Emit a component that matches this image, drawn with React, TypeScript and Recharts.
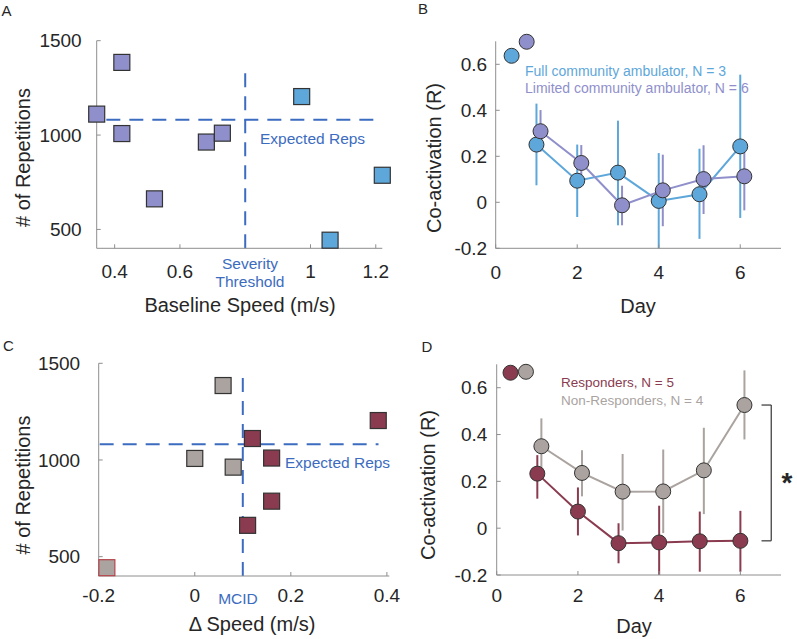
import React from 'react';
import {
    ComposedChart,
    Scatter,
    Line,
    XAxis,
    YAxis,
    ErrorBar,
    ReferenceLine,
    ReferenceDot
} from "recharts"

// ---- panel A: baseline speed vs number of repetitions ----
const fullSpeed = [0.973, 1.22, 1.06];
const fullReps = [1204, 787, 443];
const limitedSpeed = [0.345, 0.422, 0.422, 0.522, 0.681, 0.73];
const limitedReps = [1111, 1385, 1008, 662, 963, 1010];
const expectedReps = 1081;
const severityThreshold = 0.8;

// ---- panel C: change in speed vs number of repetitions ----
const respDeltaSpeed = [0.12, 0.16, 0.16, 0.11, 0.382];
const respReps = [1111, 1010, 787, 662, 1204];
const nonRespDeltaSpeed = [0.059, 0.0, 0.08, -0.183];
const nonRespReps = [1385, 1008, 963, 443];
const mcid = 0.1;

// ---- panel B: co-activation by day, ambulator groups ----
const fullDays = [1, 2, 3, 4, 5, 6];
const fullMean = [0.251, 0.094, 0.129, 0.006, 0.035, 0.243];
const fullLow = [0.074, -0.064, -0.1, -0.2, -0.159, -0.068];
const fullHigh = [0.429, 0.251, 0.355, 0.214, 0.233, 0.555];
const limitedDays = [1.1, 2.1, 3.1, 4.1, 5.1, 6.1];
const limitedMean = [0.309, 0.171, -0.013, 0.052, 0.101, 0.113];
const limitedLow = [0.22, 0.09, -0.1, -0.104, -0.051, -0.035];
const limitedHigh = [0.401, 0.249, 0.072, 0.207, 0.248, 0.22];

// ---- panel D: co-activation by day, responders ----
const respDays = [1, 2, 3, 4, 5, 6];
const respMean = [0.233, 0.071, -0.064, -0.061, -0.056, -0.054];
const respLow = [0.126, -0.031, -0.15, -0.2, -0.186, -0.186];
const respHigh = [0.312, 0.174, 0.021, 0.096, 0.071, 0.074];
const nonRespDays = [1.1, 2.1, 3.1, 4.1, 5.1, 6.1];
const nonRespMean = [0.35, 0.236, 0.156, 0.157, 0.247, 0.526];
const nonRespLow = [0.226, 0.136, -0.01, -0.021, 0.06, 0.379];
const nonRespHigh = [0.469, 0.333, 0.317, 0.336, 0.429, 0.674];

const repTicks = [500, 1000, 1500];
const speedTicks = [0.4, 0.6, 1, 1.2];
const deltaTicks = [-0.2, 0, 0.2, 0.4];
const dayTicks = [0, 2, 4, 6];
const coactTicks = [-0.2, 0, 0.2, 0.4, 0.6];

const FONT = '"Liberation Sans", Arial, Helvetica, sans-serif';
const BLUE = '#5ea7da';
const PURPLE = '#8f8fcb';
const MAROON = '#8a3b4f';
const GRAY = '#aaa39f';
const DASH = '#3c6cc0';
const EDGE = '#333333';
const TEXT = '#262626';

const axisLine = { stroke: '#8e8e8e', strokeWidth: 1 };
const tickStyle = { fontSize: 19, fill: TEXT, fontFamily: FONT };

const toPoints = (xs: number[], ys: number[]) => xs.map((x, i) => ({ x, y: ys[i] }));
const toSeries = (xs: number[], mean: number[], low: number[], high: number[]) =>
    xs.map((x, i) => ({ x, y: mean[i], err: [mean[i] - low[i], high[i] - mean[i]] }));

const square = (fill: string, stroke: string = EDGE, oddIndex: number = -1, oddStroke: string = '') => (props: any) => {
    const { cx, cy, index } = props;
    if (cx == null || cy == null) return <g />;
    return (
        <rect x={cx - 8} y={cy - 8} width={16} height={16} fill={fill}
            stroke={index === oddIndex ? oddStroke : stroke} strokeWidth={1.2} />
    );
};

const dot = (color: string) => ({ r: 7.5, fill: color, stroke: EDGE, strokeWidth: 1, fillOpacity: 1 });

const PanelA: React.FC = () => (
    <div style={{ position: 'absolute', left: 0, top: 0 }}>
        <ComposedChart width={400} height={320} margin={{ top: 40.7, right: 17.7, bottom: 31.7, left: 36.7 }}>
            <XAxis type="number" dataKey="x" domain={[0.345, 1.22]} ticks={speedTicks} interval={0}
                height={40} tick={tickStyle} tickSize={-4} tickMargin={20} axisLine={axisLine} tickLine={axisLine} />
            <YAxis type="number" dataKey="y" domain={[400, 1500]} ticks={repTicks} interval={0}
                width={60} tick={tickStyle} tickSize={-4} tickMargin={19} axisLine={axisLine} tickLine={axisLine} />
            <Scatter data={toPoints(limitedSpeed, limitedReps)} shape={square(PURPLE)} isAnimationActive={false} />
            <Scatter data={toPoints(fullSpeed, fullReps)} shape={square(BLUE)} isAnimationActive={false} />
            <ReferenceLine segment={[{ x: 0.3745, y: expectedReps }, { x: 1.22, y: expectedReps }]}
                stroke={DASH} strokeWidth={2} strokeDasharray="14 9" />
            <ReferenceLine segment={[{ x: severityThreshold, y: 400 }, { x: severityThreshold, y: 1354 }]}
                stroke={DASH} strokeWidth={2} strokeDasharray="14 9" />
        </ComposedChart>
    </div>
);

const PanelB: React.FC = () => (
    <div style={{ position: 'absolute', left: 400, top: 0 }}>
        <ComposedChart width={397} height={320} margin={{ top: 41.3, right: 16, bottom: 31.7, left: 35.7 }}>
            <XAxis type="number" dataKey="x" domain={[0, 7]} ticks={dayTicks} interval={0}
                height={40} tick={tickStyle} tickSize={-4} tickMargin={21} axisLine={axisLine} tickLine={axisLine} />
            <YAxis type="number" dataKey="y" domain={[-0.2, 0.7]} ticks={coactTicks} interval={0}
                width={60} tick={tickStyle} tickSize={-4} tickMargin={12.5} axisLine={axisLine} tickLine={axisLine} />
            <Line data={toSeries(fullDays, fullMean, fullLow, fullHigh)} dataKey="y" type="linear"
                stroke={BLUE} strokeWidth={2} dot={dot(BLUE)} isAnimationActive={false}>
                <ErrorBar dataKey="err" direction="y" width={0} stroke={BLUE} strokeWidth={2} />
            </Line>
            <Line data={toSeries(limitedDays, limitedMean, limitedLow, limitedHigh)} dataKey="y" type="linear"
                stroke={PURPLE} strokeWidth={2} dot={dot(PURPLE)} isAnimationActive={false}>
                <ErrorBar dataKey="err" direction="y" width={0} stroke={PURPLE} strokeWidth={2} />
            </Line>
            <ReferenceDot x={0.39} y={0.637} r={7.5} fill={BLUE} stroke={EDGE} strokeWidth={1} ifOverflow="visible" />
            <ReferenceDot x={0.76} y={0.698} r={7.5} fill={PURPLE} stroke={EDGE} strokeWidth={1} ifOverflow="visible" />
        </ComposedChart>
    </div>
);

const PanelC: React.FC = () => (
    <div style={{ position: 'absolute', left: 0, top: 320 }}>
        <ComposedChart width={400} height={319} margin={{ top: 43.3, right: 10.7, bottom: 23, left: 38.7 }}>
            <XAxis type="number" dataKey="x" domain={[-0.2, 0.405]} ticks={deltaTicks} interval={0}
                height={40} tick={tickStyle} tickSize={-4} tickMargin={16.5} axisLine={axisLine} tickLine={axisLine} />
            <YAxis type="number" dataKey="y" domain={[400, 1500]} ticks={repTicks} interval={0}
                width={60} tick={tickStyle} tickSize={-4} tickMargin={22.5} axisLine={axisLine} tickLine={axisLine} />
            <Scatter data={toPoints(nonRespDeltaSpeed, nonRespReps)} shape={square(GRAY, EDGE, 3, '#b5454b')} isAnimationActive={false} />
            <Scatter data={toPoints(respDeltaSpeed, respReps)} shape={square(MAROON)} isAnimationActive={false} />
            <ReferenceLine segment={[{ x: -0.198, y: expectedReps }, { x: 0.3825, y: expectedReps }]}
                stroke={DASH} strokeWidth={2} strokeDasharray="14 9" />
            <ReferenceLine segment={[{ x: mcid, y: 400 }, { x: mcid, y: 1441 }]}
                stroke={DASH} strokeWidth={2} strokeDasharray="14 9" />
        </ComposedChart>
    </div>
);

const PanelD: React.FC = () => (
    <div style={{ position: 'absolute', left: 400, top: 320 }}>
        <ComposedChart width={397} height={319} margin={{ top: 44.3, right: 16, bottom: 24, left: 36.7 }}>
            <XAxis type="number" dataKey="x" domain={[0, 7]} ticks={dayTicks} interval={0}
                height={40} tick={tickStyle} tickSize={-4} tickMargin={18} axisLine={axisLine} tickLine={axisLine} />
            <YAxis type="number" dataKey="y" domain={[-0.2, 0.7]} ticks={coactTicks} interval={0}
                width={60} tick={tickStyle} tickSize={-4} tickMargin={13.4} axisLine={axisLine} tickLine={axisLine} />
            <Line data={toSeries(nonRespDays, nonRespMean, nonRespLow, nonRespHigh)} dataKey="y" type="linear"
                stroke={GRAY} strokeWidth={2} dot={dot(GRAY)} isAnimationActive={false}>
                <ErrorBar dataKey="err" direction="y" width={0} stroke={GRAY} strokeWidth={2} />
            </Line>
            <Line data={toSeries(respDays, respMean, respLow, respHigh)} dataKey="y" type="linear"
                stroke={MAROON} strokeWidth={2} dot={dot(MAROON)} isAnimationActive={false}>
                <ErrorBar dataKey="err" direction="y" width={0} stroke={MAROON} strokeWidth={2} />
            </Line>
            <ReferenceDot x={0.34} y={0.664} r={7.5} fill={MAROON} stroke={EDGE} strokeWidth={1} ifOverflow="visible" />
            <ReferenceDot x={0.72} y={0.668} r={7.5} fill={GRAY} stroke={EDGE} strokeWidth={1} ifOverflow="visible" />
            {/* significance bracket between day-6 means */}
            <ReferenceLine segment={[{ x: 6.52, y: nonRespMean[5] }, { x: 6.76, y: nonRespMean[5] }]} stroke="#444" strokeWidth={1.3} ifOverflow="visible" />
            <ReferenceLine segment={[{ x: 6.76, y: nonRespMean[5] }, { x: 6.76, y: respMean[5] }]} stroke="#444" strokeWidth={1.3} ifOverflow="visible" />
            <ReferenceLine segment={[{ x: 6.52, y: respMean[5] }, { x: 6.76, y: respMean[5] }]} stroke="#444" strokeWidth={1.3} ifOverflow="visible" />
        </ComposedChart>
    </div>
);

const Texts: React.FC = () => (
    <svg width={797} height={639} fontFamily={FONT}
        style={{ position: 'absolute', left: 0, top: 0, pointerEvents: 'none' }}>
        <text x={1.5} y={15.5} fontSize={15} fill={TEXT}>A</text>
        <text x={418} y={13.5} fontSize={15} fill={TEXT}>B</text>
        <text x={3} y={350.5} fontSize={15} fill={TEXT}>C</text>
        <text x={421.5} y={352} fontSize={15} fill={TEXT}>D</text>

        <text x={240} y={311.5} fontSize={20} fill={TEXT} textAnchor="middle">Baseline Speed (m/s)</text>
        <text transform="translate(30,157.5) rotate(-90)" fontSize={20} fill={TEXT} textAnchor="middle"># of Repetitions</text>
        <text x={250} y={269} fontSize={15.5} fill={DASH} textAnchor="middle">Severity</text>
        <text x={250} y={287} fontSize={15.5} fill={DASH} textAnchor="middle">Threshold</text>
        <text x={260} y={143.5} fontSize={15.5} fill={DASH}>Expected Reps</text>

        <text x={638} y={312.5} fontSize={20} fill={TEXT} textAnchor="middle">Day</text>
        <text transform="translate(441,158) rotate(-90)" fontSize={20} fill={TEXT} textAnchor="middle">Co-activation (R)</text>
        <text x={525} y={75.7} fontSize={14} fill={BLUE}>Full community ambulator, N = 3</text>
        <text x={525} y={92.7} fontSize={14} fill={PURPLE}>Limited community ambulator, N = 6</text>

        <text x={252} y={631} fontSize={20} fill={TEXT} textAnchor="middle">Δ Speed (m/s)</text>
        <text transform="translate(30,485) rotate(-90)" fontSize={20} fill={TEXT} textAnchor="middle"># of Repetitions</text>
        <text x={285} y={468} fontSize={15.5} fill={DASH}>Expected Reps</text>
        <text x={238} y={604} fontSize={15.5} fill={DASH} textAnchor="middle">MCID</text>

        <text x={634} y={633} fontSize={20} fill={TEXT} textAnchor="middle">Day</text>
        <text transform="translate(434.5,485) rotate(-90)" fontSize={20} fill={TEXT} textAnchor="middle">Co-activation (R)</text>
        <text x={561} y={386.5} fontSize={13.5} fill={MAROON}>Responders, N = 5</text>
        <text x={561} y={404.7} fontSize={13.5} fill={GRAY}>Non-Responders, N = 4</text>
        <text x={787} y={492} fontSize={28} fontWeight="bold" fill={TEXT} textAnchor="middle">*</text>
    </svg>
);

const App: React.FC = () => {
    return (
        <div style={{ position: 'absolute', left: 0, top: 0, width: 797, height: 639, background: '#ffffff' }}>
            <PanelA />
            <PanelB />
            <PanelC />
            <PanelD />
            <Texts />
        </div>
    );
}

export default App;
